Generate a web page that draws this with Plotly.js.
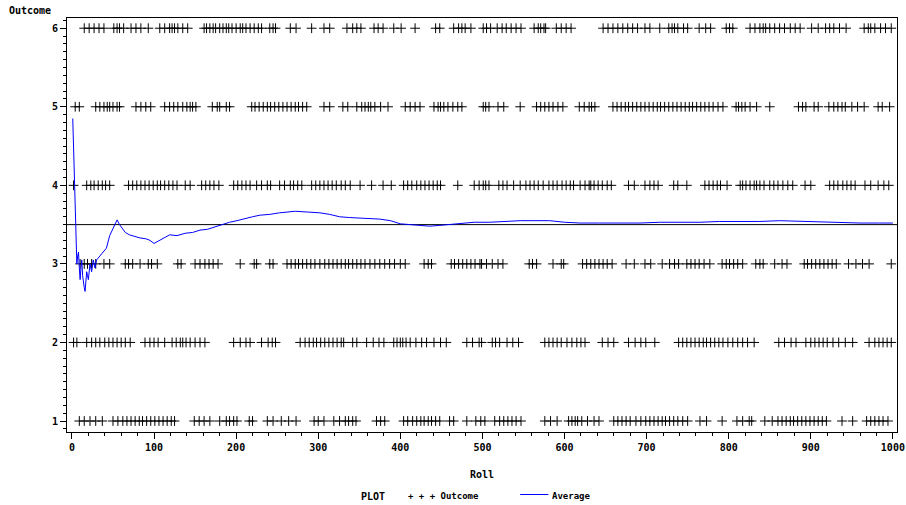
<!DOCTYPE html>
<html>
<head>
<meta charset="utf-8">
<script src="https://cdn.plot.ly/plotly-3.0.1.min.js"></script>
<style>html,body{margin:0;padding:0;background:#fff}#chart{width:906px;height:505px}</style>
</head>
<body>
<div id="chart"></div>
<script>
// Roll numbers (x) at which each outcome appears
const roll6 = [15,21,27,33,39,51,55,58,63,72,78,84,93,107,113,119,122,125,129,135,141,161,164,168,172,175,180,184,188,191,195,200,205,208,212,217,222,227,231,241,245,248,266,273,292,307,314,335,342,347,352,368,373,379,392,401,418,443,448,465,471,475,479,486,501,505,510,518,524,529,535,541,547,563,568,571,575,577,590,596,602,608,647,653,659,665,671,677,683,689,698,704,716,727,731,734,738,745,750,764,772,778,797,801,805,826,832,838,842,845,850,856,862,868,875,881,887,901,909,918,923,928,935,943,965,970,973,978,985,991,998];
const roll5 = [4,9,29,34,39,43,46,50,55,58,78,84,90,96,113,119,124,129,135,140,144,147,151,171,177,180,188,192,219,223,228,233,238,242,247,252,257,262,267,272,276,281,286,307,314,330,336,347,353,357,361,364,369,376,385,406,412,418,424,441,446,449,453,458,464,470,475,501,504,508,519,526,546,566,571,576,581,586,592,598,618,624,630,633,637,659,664,669,674,678,683,688,693,698,703,708,713,717,722,727,732,737,742,747,752,756,761,766,771,776,781,787,793,809,812,816,820,826,834,850,885,890,894,904,909,922,928,933,938,942,950,957,965,982,987,996];
const roll4 = [2,18,23,27,32,37,41,46,69,74,79,84,89,94,99,104,108,113,118,123,128,138,144,158,163,168,173,179,197,202,207,212,217,225,231,238,242,253,259,266,270,275,280,292,297,302,307,312,317,322,328,333,339,351,365,379,389,404,409,414,420,425,430,435,440,445,449,470,490,496,501,504,508,520,525,530,538,546,553,558,563,568,574,581,586,591,597,602,607,611,619,625,630,632,636,641,646,652,657,678,685,698,704,709,714,733,738,749,771,776,781,786,790,798,814,817,821,826,831,834,838,843,850,855,860,866,872,878,893,900,923,928,933,939,944,949,954,966,973,982,989,995];
const roll3 = [10,15,19,24,29,39,46,65,69,74,83,93,97,104,129,133,150,156,162,167,172,178,205,222,225,241,245,262,267,272,276,281,286,291,296,302,308,313,318,323,328,333,337,342,347,352,357,363,369,375,381,387,393,400,406,429,434,438,462,466,471,476,481,486,491,497,499,505,512,519,525,557,561,566,586,596,599,622,627,632,637,642,647,652,658,675,685,698,705,719,728,734,739,749,754,759,764,770,777,792,797,801,806,811,817,833,838,842,856,865,871,892,896,901,906,911,916,921,926,931,946,955,963,971,998];
const roll2 = [2,6,18,24,29,34,40,45,50,55,60,65,71,89,95,100,105,113,122,127,132,135,139,144,150,156,162,197,205,212,217,231,239,244,248,278,284,289,294,298,303,308,313,318,323,328,331,342,347,359,367,374,380,392,396,400,403,407,412,419,426,432,441,449,456,481,488,496,499,512,516,521,530,537,544,576,581,586,591,596,603,609,615,620,625,646,653,660,678,686,693,699,710,739,744,749,754,759,764,769,773,778,783,788,793,799,805,811,817,823,831,861,868,876,882,894,900,905,910,915,920,927,934,942,951,971,978,983,988,993,998];
const roll1 = [9,15,22,29,37,50,56,62,67,72,77,82,86,91,96,101,106,111,116,121,125,149,155,161,168,180,188,192,197,201,216,220,238,245,255,264,273,295,300,307,319,326,333,337,342,346,371,376,381,404,409,415,420,425,429,434,438,443,448,460,465,481,492,498,503,515,521,526,531,536,541,547,576,583,591,605,609,613,616,621,628,636,642,660,665,670,675,680,687,693,699,704,709,714,719,723,728,733,738,744,750,765,773,792,810,817,825,828,844,853,860,865,870,875,879,884,889,894,899,904,909,914,919,938,951,968,973,978,983,988,994];

// Running average
const avgRoll  = [1,2,3,4,5,6,7,8,9,10,11,12,13,14,15,16,17,18,19,20,22,24,26,28,30,34,38,42,46,50,55,58,62,65,70,76,83,90,95,100,107,113,119,128,138,147,156,165,174,183,192,201,211,220,229,241,253,263,272,287,302,314,326,338,351,363,375,388,400,412,424,436,448,460,473,490,509,527,546,564,582,600,619,643,667,692,716,740,765,789,813,838,862,887,911,935,960,984,1000];
const avgValue = [4.85,4.45,4.0,3.5,3.2,3.0,3.1,3.15,2.95,2.8,2.95,3.05,2.85,2.75,2.7,2.65,2.75,2.9,2.85,2.8,3.0,2.9,3.05,2.95,3.05,3.1,3.15,3.2,3.36,3.45,3.56,3.5,3.45,3.4,3.37,3.35,3.33,3.32,3.3,3.26,3.3,3.33,3.37,3.36,3.39,3.4,3.43,3.44,3.47,3.5,3.53,3.55,3.58,3.6,3.62,3.63,3.65,3.66,3.67,3.66,3.65,3.63,3.6,3.59,3.58,3.58,3.57,3.55,3.51,3.5,3.49,3.48,3.49,3.5,3.52,3.53,3.53,3.54,3.55,3.55,3.55,3.53,3.52,3.52,3.52,3.52,3.53,3.53,3.53,3.54,3.54,3.54,3.55,3.54,3.53,3.53,3.52,3.52,3.52];

const outcomeRolls = [roll1, roll2, roll3, roll4, roll5, roll6];
const outcomeLevels = [1, 2, 3, 4, 5, 6];
const refLevel = 3.5;
const xTicks = [0,100,200,300,400,500,600,700,800,900,1000];
const yTicks = [1,2,3,4,5,6];

const FONT = '"DejaVu Sans Mono", "Liberation Mono", monospace';

const traces = [];
outcomeRolls.forEach((rolls, i) => {
  traces.push({
    type: 'scatter', mode: 'markers',
    x: rolls, y: rolls.map(() => outcomeLevels[i]),
    marker: {symbol: 'cross-thin', size: 7, line: {color: '#000', width: 1}, color: '#000'},
    showlegend: false, hoverinfo: 'x+y', cliponaxis: false
  });
});
traces.push({
  type: 'scatter', mode: 'lines',
  x: [-6, 1005], y: [refLevel, refLevel],
  line: {color: '#000', width: 1}, showlegend: false, hoverinfo: 'skip'
});
traces.push({
  type: 'scatter', mode: 'lines',
  x: avgRoll, y: avgValue,
  line: {color: '#0000ff', width: 1}, showlegend: false
});

const LY = -0.155;
const LF = {family: FONT, size: 9, weight: 'bold'};
const layout = {
  width: 906, height: 505,
  margin: {l: 67, r: 9, t: 18, b: 73},
  paper_bgcolor: '#fff', plot_bgcolor: '#fff',
  font: {family: FONT, size: 10, color: '#000', weight: 'bold'},
  xaxis: {
    range: [-6, 1005], tickvals: xTicks, ticktext: xTicks.map(String),
    ticks: 'outside', ticklen: 6, tickwidth: 1, tickcolor: '#000',
    minor: {dtick: 20, tick0: 0, ticks: 'outside', ticklen: 3, tickcolor: '#000', showgrid: false},
    showline: true, linecolor: '#000', linewidth: 1, mirror: true,
    showgrid: false, zeroline: false,
    tickfont: {family: FONT, size: 10, weight: 'bold'},
    title: {text: 'Roll', font: {family: FONT, size: 10, weight: 'bold'}, standoff: 18}
  },
  yaxis: {
    range: [0.86, 6.13], tickvals: yTicks, ticktext: yTicks.map(String),
    ticks: 'outside', ticklen: 6, tickwidth: 1, tickcolor: '#000',
    minor: {dtick: 0.1, tick0: 0, ticks: 'outside', ticklen: 3, tickcolor: '#000', showgrid: false},
    showline: true, linecolor: '#000', linewidth: 1, mirror: true,
    showgrid: false, zeroline: false,
    tickfont: {family: FONT, size: 10, weight: 'bold'}
  },
  annotations: [
    {xref: 'paper', yref: 'paper', x: -0.072, y: 1.0, xanchor: 'left', yanchor: 'bottom',
     text: 'Outcome', showarrow: false, font: {family: FONT, size: 10, weight: 'bold'}},
    {xref: 'paper', yref: 'paper', x: 0.352, y: LY, xanchor: 'left', yanchor: 'middle',
     text: 'PLOT', showarrow: false, font: {family: FONT, size: 10, weight: 'bold'}},
    {xref: 'paper', yref: 'paper', x: 0.409, y: LY, xanchor: 'left', yanchor: 'middle',
     text: '+ + + Outcome', showarrow: false, font: LF},
    {xref: 'paper', yref: 'paper', x: 0.582, y: LY, xanchor: 'left', yanchor: 'middle',
     text: 'Average', showarrow: false, font: LF}
  ],
  shapes: [
    {type: 'line', xref: 'paper', yref: 'paper', x0: 0.546, x1: 0.580, y0: LY + 0.004, y1: LY + 0.004,
     line: {color: '#0000ff', width: 1}}
  ]
};

Plotly.newPlot('chart', traces, layout, {displayModeBar: false, staticPlot: true});
</script>
</body>
</html>
